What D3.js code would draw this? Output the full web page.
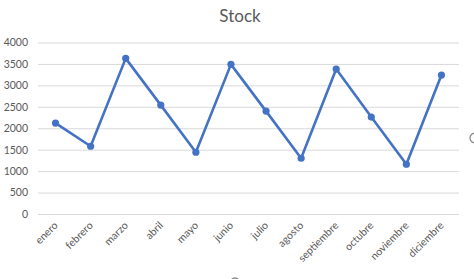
<!DOCTYPE html>
<html><head><meta charset="utf-8">
<script src="https://cdn.jsdelivr.net/npm/d3@7"></script>
<style>body{margin:0;background:#fff}svg{display:block}</style>
</head><body>
<svg id="c" width="474" height="279"></svg>
<script>
const categories = ["enero","febrero","marzo","abril","mayo","junio","julio","agosto","septiembre","octubre","noviembre","diciembre"];
const stock = [2120, 1580, 3630, 2540, 1440, 3490, 2400, 1300, 3380, 2260, 1160, 3240];
const yTicks = [0,500,1000,1500,2000,2500,3000,3500,4000];
const title = "Stock";

(function(){
const svg = d3.select("#c");
const mLeft = 38, mRight = 459, mTop = 42.5, mBottom = 214;
const font = "Lato, 'Open Sans', sans-serif";
const grey = "#595959";

const x = d3.scaleBand().domain(categories).range([mLeft, mRight]);
const y = d3.scaleLinear().domain([0, 4000]).range([mBottom, mTop]);

svg.append("text").attr("x", 240).attr("y", 22).attr("text-anchor", "middle")
  .attr("font-family", font).attr("font-size", 17).attr("fill", grey).text(title);

const ya = svg.append("g").attr("transform", `translate(${mLeft},0)`)
  .call(d3.axisLeft(y).tickValues(yTicks).tickSize(-(mRight-mLeft)).tickPadding(10).tickFormat(d3.format("d")));
ya.select(".domain").remove();
ya.selectAll(".tick line").attr("stroke", "#d9d9d9").attr("stroke-width", 1);
ya.selectAll(".tick text").attr("font-family", font).attr("font-size", 10.5).attr("fill", grey);

const xa = svg.append("g").attr("transform", `translate(0,${mBottom})`)
  .call(d3.axisBottom(x).tickSize(0).tickPadding(0));
xa.select(".domain").remove();
xa.selectAll(".tick text").attr("font-family", font).attr("font-size", 10.5).attr("fill", grey)
  .attr("text-anchor", "end").attr("dy", 0).attr("transform", "translate(3,12) rotate(-45)");

const line = d3.line().x((d,i) => x(categories[i]) + x.bandwidth()/2).y(d => y(d));
svg.append("path").datum(stock).attr("d", line).attr("fill", "none")
  .attr("stroke", "#4472C4").attr("stroke-width", 2.6).attr("stroke-linejoin", "round");
svg.selectAll("circle.pt").data(stock).enter().append("circle").attr("class","pt")
  .attr("cx", (d,i) => x(categories[i]) + x.bandwidth()/2).attr("cy", d => y(d))
  .attr("r", 3.6).attr("fill", "#4472C4");

svg.append("circle").attr("cx", 475).attr("cy", 138).attr("r", 5).attr("fill", "#fff").attr("stroke", "#8c8c8c").attr("stroke-width", 1.3);
svg.append("circle").attr("cx", 235).attr("cy", 283).attr("r", 5).attr("fill", "#fff").attr("stroke", "#8c8c8c").attr("stroke-width", 1.3);
})();
</script>
</body></html>
